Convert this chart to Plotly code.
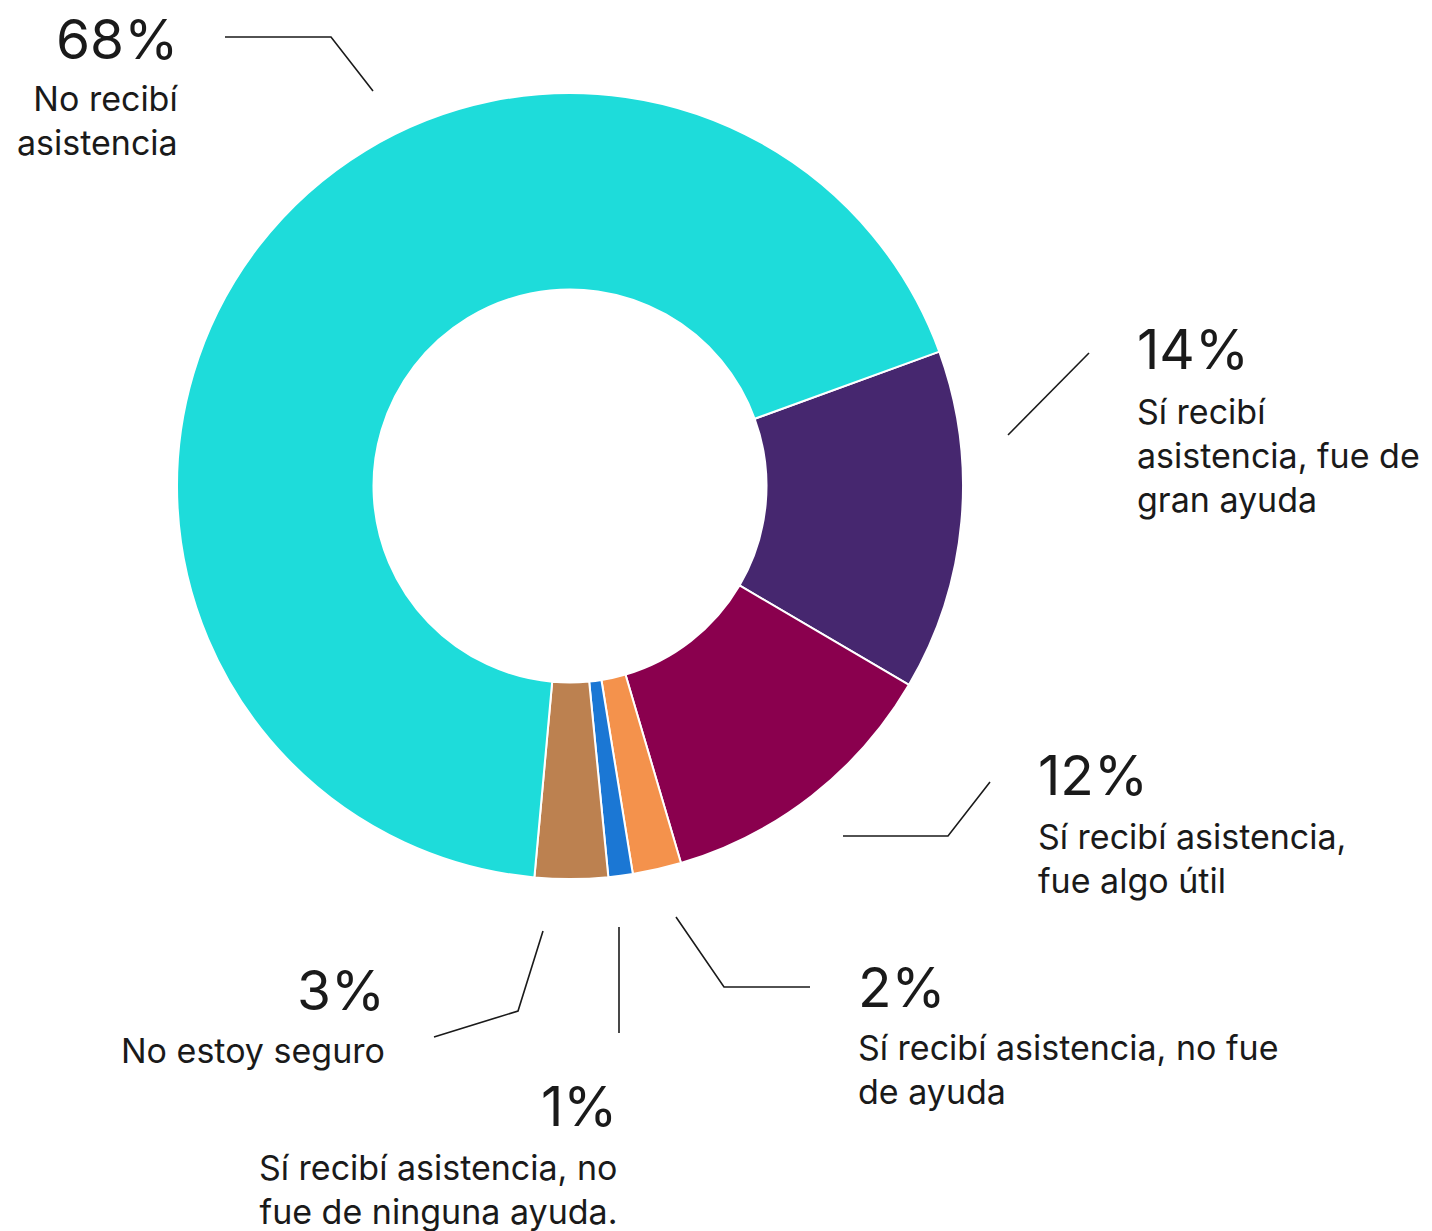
import plotly.graph_objects as go

# ---- data ----
categories = [
    "Sí recibí asistencia, fue de gran ayuda",
    "Sí recibí asistencia, fue algo útil",
    "Sí recibí asistencia, no fue de ayuda",
    "Sí recibí asistencia, no fue de ninguna ayuda.",
    "No estoy seguro",
    "No recibí asistencia",
]
values = [14, 12, 2, 1, 3, 68]
wrapped_labels = [
    "Sí recibí<br>asistencia, fue de<br>gran ayuda",
    "Sí recibí asistencia,<br>fue algo útil",
    "Sí recibí asistencia, no fue<br>de ayuda",
    "Sí recibí asistencia, no<br>fue de ninguna ayuda.",
    "No estoy seguro",
    "No recibí<br>asistencia",
]
colors = ["#46276F", "#8A004E", "#F4924C", "#1B77D4", "#BC8150", "#1EDCDA"]

# page body has an 8px margin; size the figure to fit the window
OFF = 8
W, H = 1432 - OFF, 1231 - OFF
FONT = "Inter, Roboto, 'Noto Sans', sans-serif"
INK = "#1a1a1a"


def px(x):
    return (x - OFF) / W


def py(y):
    return 1 - (y - OFF) / H


fig = go.Figure()
fig.add_trace(go.Pie(
    labels=categories,
    values=values,
    hole=0.5,
    sort=False,
    direction="clockwise",
    rotation=70,
    marker=dict(colors=colors, line=dict(color="white", width=2)),
    textinfo="none",
    hoverinfo="label+percent",
    showlegend=False,
    domain=dict(x=[px(177), px(963)], y=[py(879), py(93)]),
))

# label layout: (anchor side, x, percent center y, label block center y)
label_pos = [
    ("left", 1135, 349, 455),
    ("left", 1036, 775, 858),
    ("left", 856, 987, 1069),
    ("right", 619, 1106, 1189),
    ("right", 387, 990, 1050),
    ("right", 180, 39, 120),
]

annotations = []
for v, lab, (side, x, yp, yl) in zip(values, wrapped_labels, label_pos):
    annotations.append(dict(
        x=px(x), y=py(yp), xref="paper", yref="paper",
        text=f"{v}%", showarrow=False, xanchor=side, yanchor="middle",
        align=side, font=dict(family=FONT, size=55, color=INK),
    ))
    annotations.append(dict(
        x=px(x), y=py(yl), xref="paper", yref="paper",
        text=lab, showarrow=False, xanchor=side, yanchor="middle",
        align=side, font=dict(family=FONT, size=34, color=INK),
    ))

leader_lines = [
    [(1089, 353), (1008, 435)],
    [(990, 782), (948, 836), (843, 836)],
    [(676, 917), (724, 987), (810, 987)],
    [(619, 927), (619, 1033)],
    [(543, 931), (518, 1011), (434, 1037)],
    [(225, 37), (331, 37), (373, 91)],
]
shapes = []
for pts in leader_lines:
    path = "M " + " L ".join(f"{px(a)},{py(b)}" for a, b in pts)
    shapes.append(dict(type="path", path=path, xref="paper", yref="paper",
                       line=dict(color=INK, width=1.6)))

fig.update_layout(
    width=W, height=H,
    margin=dict(l=0, r=0, t=0, b=0),
    paper_bgcolor="white", plot_bgcolor="white",
    annotations=annotations, shapes=shapes,
)

fig.write_html("out.html")
